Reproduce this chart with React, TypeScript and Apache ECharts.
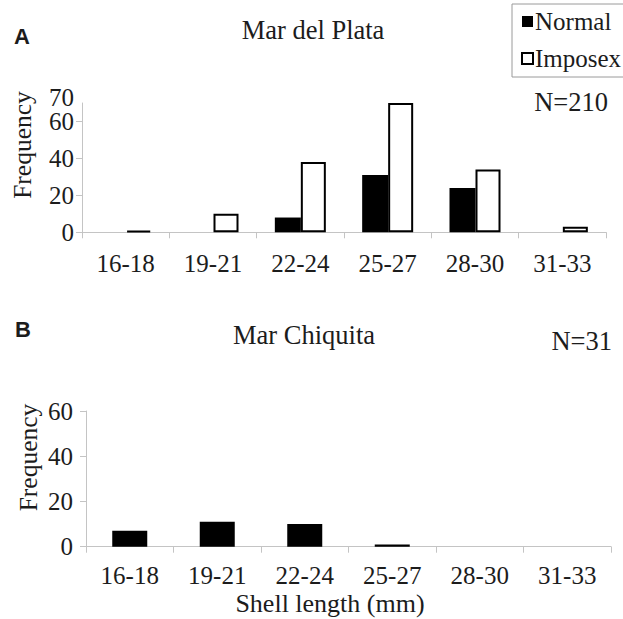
import React, { useEffect, useRef } from "react";
import * as echarts from "echarts";

const categories = ["16-18", "19-21", "22-24", "25-27", "28-30", "31-33"];
const normalA = [0, 0, 8, 31, 24, 0];
const imposexA = [1, 10, 38, 70, 34, 3];
const normalB = [7, 11, 10, 1, 0, 0];
const yTicksA = [0, 20, 40, 60];
const yTopA = [70];
const yTicksB = [0, 20, 40, 60];

const SERIF = "'Liberation Serif', 'Times New Roman', serif";
const SANS = "'Liberation Sans', Arial, sans-serif";
const TXT = "#1c1c1c";
const AXIS = "#c4c4c4";

export default function App() {
  const ref = useRef<HTMLDivElement>(null);
  useEffect(() => {
    if (!ref.current) return;
    const chart = echarts.init(ref.current, null, { renderer: "svg" });
    const xAxisBase = (gridIndex: number, margin: number) => ({
      type: "category",
      gridIndex,
      data: categories,
      boundaryGap: true,
      axisLine: { lineStyle: { color: AXIS, width: 1 } },
      axisTick: { show: true, alignWithLabel: false, length: 6, lineStyle: { color: AXIS } },
      axisLabel: { fontFamily: SERIF, fontSize: 25, color: TXT, margin, interval: 0 },
      splitLine: { show: false },
    });
    const yAxisBase = (gridIndex: number, max: number, margin: number, ticks: number[]) => ({
      type: "value",
      gridIndex,
      position: "left",
      min: 0,
      max,
      interval: 20,
      axisLine: { show: true, lineStyle: { color: AXIS, width: 1 } },
      axisTick: { show: true, length: 6, lineStyle: { color: AXIS }, customValues: ticks },
      axisLabel: {
        fontFamily: SERIF,
        fontSize: 25,
        color: TXT,
        margin,
        showMaxLabel: true,
        showMinLabel: true,
        customValues: ticks,
      },
      splitLine: { show: false },
    });
    chart.setOption({
      animation: false,
      backgroundColor: "#ffffff",
      grid: [
        { left: 82, top: 103, width: 524, height: 129.3 },
        { left: 86, top: 411, width: 525, height: 135.7 },
      ],
      legend: {
        show: true,
        orient: "vertical",
        left: 512,
        top: 4,
        data: ["Normal", "Imposex"],
        icon: "rect",
        itemWidth: 11,
        itemHeight: 11,
        itemGap: 12,
        padding: [5, 40, 6, 9],
        borderColor: "#9a9a9a",
        borderWidth: 1,
        textStyle: { fontFamily: SERIF, fontSize: 25, color: TXT, padding: [0, 0, 0, -3] },
      },
      xAxis: [xAxisBase(0, 19), xAxisBase(1, 16)],
      yAxis: [
        yAxisBase(0, 70, 8, yTicksA),
        yAxisBase(1, 60, 13, yTicksB),
        {
          type: "value",
          gridIndex: 0,
          position: "left",
          offset: 0,
          min: 0,
          max: 70,
          interval: 10,
          axisLine: { show: false },
          axisTick: { show: false },
          splitLine: { show: false },
          axisLabel: {
            fontFamily: SERIF,
            fontSize: 25,
            color: TXT,
            margin: 8,
            showMaxLabel: true,
            customValues: yTopA,
            formatter: (v: number) => "{top|" + v + "}",
            rich: { top: { fontFamily: SERIF, fontSize: 25, color: TXT, padding: [0, 0, 12, 0] } },
          },
        },
      ],
      series: [
        {
          name: "Normal",
          type: "bar",
          xAxisIndex: 0,
          yAxisIndex: 0,
          data: normalA,
          barWidth: 26,
          barGap: "0%",
          itemStyle: { color: "#000000", borderWidth: 0 },
        },
        {
          name: "Imposex",
          type: "bar",
          xAxisIndex: 0,
          yAxisIndex: 0,
          data: imposexA,
          barWidth: 25,
          barGap: "0%",
          itemStyle: { color: "#ffffff", borderColor: "#000000", borderWidth: 2 },
        },
        {
          name: "Normal",
          type: "bar",
          xAxisIndex: 1,
          yAxisIndex: 1,
          data: normalB,
          barWidth: 35,
          itemStyle: { color: "#000000", borderWidth: 0 },
        },
      ],
      graphic: [
        { type: "text", x: 14, y: 36, style: { text: "A", fontFamily: SANS, fontWeight: "bold", fontSize: 22, fill: TXT, align: "left", verticalAlign: "middle" } },
        { type: "text", x: 313, y: 30, style: { text: "Mar del Plata", fontFamily: SERIF, fontSize: 26.5, fill: TXT, align: "center", verticalAlign: "middle" } },
        { type: "text", x: 608, y: 102, style: { text: "N=210", fontFamily: SERIF, fontSize: 26.5, fill: TXT, align: "right", verticalAlign: "middle" } },
        { type: "text", x: 22.5, y: 145, rotation: Math.PI / 2, style: { text: "Frequency", fontFamily: SERIF, fontSize: 25.5, fill: TXT, align: "center", verticalAlign: "middle" } },
        { type: "text", x: 15, y: 329, style: { text: "B", fontFamily: SANS, fontWeight: "bold", fontSize: 22, fill: TXT, align: "left", verticalAlign: "middle" } },
        { type: "text", x: 304, y: 335, style: { text: "Mar Chiquita", fontFamily: SERIF, fontSize: 26.5, fill: TXT, align: "center", verticalAlign: "middle" } },
        { type: "text", x: 612, y: 341, style: { text: "N=31", fontFamily: SERIF, fontSize: 26.5, fill: TXT, align: "right", verticalAlign: "middle" } },
        { type: "text", x: 28.7, y: 457.5, rotation: Math.PI / 2, style: { text: "Frequency", fontFamily: SERIF, fontSize: 25.5, fill: TXT, align: "center", verticalAlign: "middle" } },
        { type: "text", x: 330, y: 603, style: { text: "Shell length (mm)", fontFamily: SERIF, fontSize: 26, fill: TXT, align: "center", verticalAlign: "middle" } },
      ],
    });
    return () => chart.dispose();
  }, []);
  return <div ref={ref} style={{ width: 623, height: 619, position: "absolute", left: 0, top: 0 }} />;
}
